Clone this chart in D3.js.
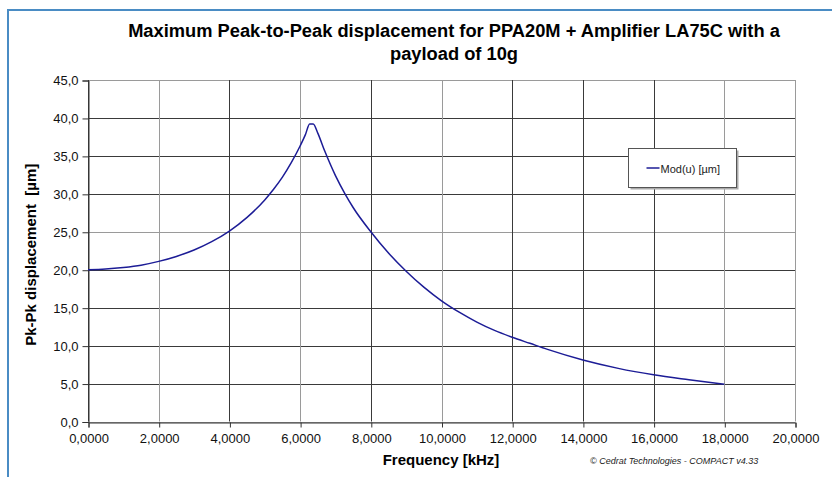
<!DOCTYPE html>
<html>
<head>
<meta charset="utf-8">
<script src="https://cdn.jsdelivr.net/npm/d3@7"></script>
<style>
  body { margin: 0; background: #fff; }
  svg { display: block; font-family: "Liberation Sans", Arial, sans-serif; }
</style>
</head>
<body>
<svg id="chart" width="832" height="477"></svg>
<script>
// values
const freqKHz = [0, 0.5, 1, 1.5, 2, 2.5, 3, 3.5, 4, 4.5, 5, 5.25, 5.5, 5.75, 6, 6.15, 6.27, 6.37,
  6.5, 6.7, 7, 7.27, 7.5, 8, 8.5, 9, 9.5, 10, 10.5, 11, 11.5, 12, 12.5, 13, 14, 15, 16, 17, 18];
const dispUm = [20.0, 20.1, 20.3, 20.6, 21.1, 21.75, 22.6, 23.7, 25.1, 26.9, 29.2, 30.6, 32.2, 34.1, 36.3, 37.8, 39.2, 39.2,
  38.0, 35.6, 32.4, 30.0, 28.2, 25.0, 22.2, 19.8, 17.7, 15.9, 14.4, 13.1, 12.0, 11.1, 10.3, 9.5, 8.1, 7.0, 6.15, 5.5, 4.9];
const xTicks = [0, 2, 4, 6, 8, 10, 12, 14, 16, 18, 20];
const yTicks = [0, 5, 10, 15, 20, 25, 30, 35, 40, 45];
const seriesName = "Mod(u) [µm]";

const svg = d3.select("#chart");
const margin = { top: 80, right: 37, bottom: 55, left: 88 };
const width = 832, height = 477;

const loc = d3.formatLocale({ decimal: ",", thousands: ".", grouping: [3], currency: ["", ""] });
const fmtX = loc.format(".4f");
const fmtY = loc.format(".1f");

const x = d3.scaleLinear().domain([0, 20]).range([margin.left, width - margin.right]);
const y = d3.scaleLinear().domain([0, 45]).range([height - margin.bottom - 0.5, margin.top]);

// outer frame (blue, only left & top visible)
svg.append("path")
  .attr("d", `M8,${height}V10H${width}`)
  .attr("fill", "none")
  .attr("stroke", "#4a8cc4")
  .attr("stroke-width", 2);

// title
svg.append("text")
  .attr("x", 454).attr("y", 37)
  .attr("text-anchor", "middle")
  .style("font-size", "18.3px").style("font-weight", "bold")
  .text("Maximum Peak-to-Peak displacement for PPA20M + Amplifier LA75C with a");
svg.append("text")
  .attr("x", 454).attr("y", 60)
  .attr("text-anchor", "middle")
  .style("font-size", "18.3px").style("font-weight", "bold")
  .text("payload of 10g");

// grid
const grid = svg.append("g").attr("stroke", "#3a3a3a").attr("stroke-width", 1);
grid.selectAll("line.h").data(yTicks).join("line")
  .attr("class", "h")
  .attr("x1", x(0)).attr("x2", x(20))
  .attr("y1", d => Math.round(y(d)) + 0.5).attr("y2", d => Math.round(y(d)) + 0.5)
  .attr("stroke", d => (d === 25 || d === 45 || d === 0) ? "#9a9a9a" : null);
grid.selectAll("line.v").data(xTicks).join("line")
  .attr("class", "v")
  .attr("y1", y(0)).attr("y2", y(45))
  .attr("x1", d => Math.round(x(d)) + 0.5).attr("x2", d => Math.round(x(d)) + 0.5)
  .attr("stroke", d => (d === 2 || d === 6 || d === 10 || d === 18 || d === 20) ? "#9a9a9a" : null);

// axes
const xAxis = svg.append("g")
  .attr("transform", `translate(0.5,${Math.round(y(0)) + 0.5})`)
  .call(d3.axisBottom(x).tickValues(xTicks).tickFormat(fmtX).tickSize(5).tickPadding(6));
const yAxis = svg.append("g")
  .attr("transform", `translate(${Math.round(x(0)) + 0.5},0.5)`)
  .call(d3.axisLeft(y).tickValues(yTicks).tickFormat(fmtY).tickSize(6).tickPadding(4));
[xAxis, yAxis].forEach(a => {
  a.select(".domain").attr("stroke", "#333");
  a.selectAll(".tick line").attr("stroke", "#333");
  a.selectAll(".tick text").attr("fill", "#111")
    .style("font-size", "13px").style("font-family", "'Liberation Sans', Arial, sans-serif");
});

// axis titles
svg.append("text")
  .attr("x", 441).attr("y", 465)
  .attr("text-anchor", "middle")
  .style("font-size", "15px").style("font-weight", "bold")
  .text("Frequency [kHz]");
svg.append("text")
  .attr("transform", `translate(36,${(y(0) + y(45)) / 2 + 4}) rotate(-90)`)
  .attr("text-anchor", "middle")
  .style("font-size", "15px").style("font-weight", "bold").style("white-space", "pre")
  .text("Pk-Pk displacement  [µm]");
svg.append("text")
  .attr("x", 590).attr("y", 464)
  .style("font-size", "9px").style("font-style", "italic").attr("fill", "#222")
  .text("© Cedrat Technologies - COMPACT v4.33");

// series line
const pts = freqKHz.map((f, i) => [f, dispUm[i]]);
svg.append("path")
  .datum(pts)
  .attr("fill", "none")
  .attr("stroke", "#1c1c96")
  .attr("stroke-width", 1.5)
  .attr("d", d3.line().x(d => x(d[0])).y(d => y(d[1])).curve(d3.curveMonotoneX));

// legend
const lg = svg.append("g").attr("transform", "translate(628.5,148.5)");
lg.append("rect").attr("x", 2).attr("y", 2).attr("width", 108).attr("height", 39).attr("fill", "#aaa");
lg.append("rect").attr("width", 108).attr("height", 39).attr("fill", "#fff").attr("stroke", "#555");
lg.append("line").attr("x1", 18).attr("x2", 31).attr("y1", 19.5).attr("y2", 19.5)
  .attr("stroke", "#1c1c96").attr("stroke-width", 1.5);
lg.append("text").attr("x", 32).attr("y", 24)
  .style("font-size", "11px").attr("fill", "#222")
  .text(seriesName);
</script>
</body>
</html>
